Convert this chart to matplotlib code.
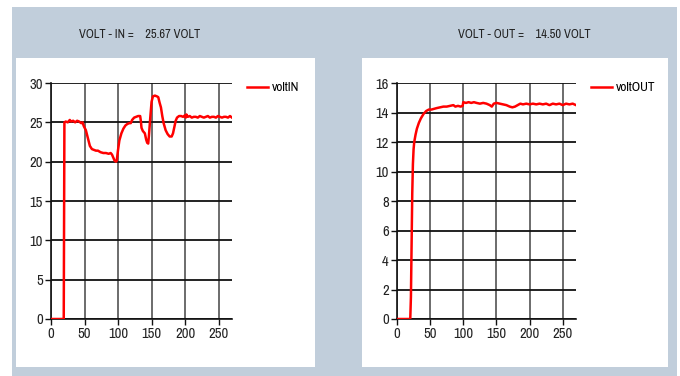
import matplotlib
matplotlib.use("Agg")
import matplotlib.pyplot as plt
from matplotlib.patches import Rectangle

plt.rcParams['font.family'] = ['Archivo Narrow', 'Liberation Sans', 'DejaVu Sans']

# ---------------- data ----------------
in_x = [0, 19, 20, 22, 25, 28, 30, 33, 36, 39, 42, 45, 47, 49, 52, 55, 58, 61, 64, 67, 70,
        74, 78, 82, 86, 89, 91, 93, 95, 97, 98, 100, 102, 105, 108, 111, 114, 117, 119, 121,
        124, 127, 130, 133, 134, 135, 137, 140, 142, 143.5, 145, 146, 148, 150, 152, 155, 158,
        160, 162, 164, 166, 168, 171, 174, 177, 180, 182, 184, 186, 188, 191, 194, 197, 200,
        201, 202, 204, 207, 210, 213, 216, 219, 222, 225, 228, 231, 234, 237, 240, 243, 246,
        249, 252, 255, 258, 261, 264, 267, 270]
in_y = [0, 0, 25.0, 25.1, 25.0, 25.3, 25.1, 25.2, 25.0, 25.2, 25.1, 24.9, 25.0, 24.5, 24.0,
        23.0, 22.0, 21.6, 21.5, 21.4, 21.4, 21.2, 21.1, 21.1, 21.0, 21.1, 20.9, 20.5, 20.1,
        20.0, 20.1, 21.5, 22.7, 23.6, 24.2, 24.6, 24.8, 24.9, 24.9, 25.3, 25.6, 25.7, 25.8,
        25.8, 25.2, 24.3, 23.9, 23.6, 22.8, 22.4, 22.3, 23.2, 25.5, 27.6, 28.3, 28.4, 28.3,
        28.2, 27.5, 26.9, 25.8, 24.9, 24.0, 23.5, 23.2, 23.2, 23.6, 24.4, 25.2, 25.6, 25.8,
        25.8, 25.7, 25.9, 25.6, 26.0, 25.7, 25.8, 25.6, 25.7, 25.7, 25.6, 25.8, 25.7, 25.6,
        25.7, 25.8, 25.6, 25.7, 25.7, 25.6, 25.8, 25.7, 25.6, 25.7, 25.7, 25.6, 25.8, 25.6]

out_x = [0, 20, 21, 22, 23, 24, 25, 26, 28, 30, 33, 36, 40, 44, 48, 52, 56, 60, 65, 70, 75,
         80, 85, 88, 92, 96, 99, 100, 104, 108, 112, 116, 120, 125, 130, 135, 140, 143, 146,
         150, 155, 160, 165, 170, 174, 178, 182, 186, 190, 195, 200, 205, 210, 215, 220, 225,
         230, 235, 240, 245, 250, 255, 260, 265, 270]
out_y = [0, 0, 1.5, 5.0, 8.5, 10.5, 11.5, 12.0, 12.5, 12.9, 13.3, 13.6, 13.9, 14.1, 14.2,
         14.2, 14.25, 14.3, 14.35, 14.4, 14.4, 14.45, 14.5, 14.4, 14.45, 14.4, 14.45, 14.7,
         14.65, 14.7, 14.65, 14.7, 14.65, 14.6, 14.65, 14.6, 14.5, 14.4, 14.6, 14.65, 14.6,
         14.55, 14.5, 14.4, 14.35, 14.4, 14.5, 14.6, 14.55, 14.6, 14.55, 14.6, 14.55, 14.6,
         14.55, 14.6, 14.5, 14.6, 14.55, 14.6, 14.5, 14.6, 14.55, 14.6, 14.5]

in_title = "VOLT - IN =    25.67 VOLT"
out_title = "VOLT - OUT =    14.50 VOLT"
x_ticks = [0, 50, 100, 150, 200, 250]
in_ticks = [0, 5, 10, 15, 20, 25, 30]
out_ticks = [0, 2, 4, 6, 8, 10, 12, 14, 16]

W, H = 680, 376
fig = plt.figure(figsize=(W / 100, H / 100), dpi=100)
fig.patch.set_facecolor('white')

def frect(x0, y0, x1, y1, color, z):
    fig.patches.append(Rectangle((x0 / W, 1 - y1 / H), (x1 - x0) / W, (y1 - y0) / H,
                                 transform=fig.transFigure, facecolor=color,
                                 edgecolor='none', zorder=z))

blue = '#c1cedb'
frect(12, 7, 677, 376, blue, -3)
frect(16, 58, 315, 367, 'white', -2)
frect(362, 58, 668, 367, 'white', -2)

def make_axes(px0, px1, py0, py1):
    return fig.add_axes([px0 / W, 1 - py1 / H, (px1 - px0) / W, (py1 - py0) / H])

def style(ax, yticks, xs, ys, label, leg_px):
    ax.set_facecolor('white')
    ax.plot(xs, ys, color='#ff0000', lw=1.8, label=label, zorder=3)
    ax.set_xlim(0, 270)
    ax.set_ylim(yticks[0], yticks[-1])
    ax.set_xticks(x_ticks)
    ax.set_yticks(yticks)
    ax.grid(axis='y', color='#111111', lw=1.3)
    ax.grid(axis='x', color='#444444', lw=1.1)
    for s in ['top', 'right']:
        ax.spines[s].set_visible(False)
    for s in ['left', 'bottom']:
        ax.spines[s].set_color('#111111')
        ax.spines[s].set_linewidth(1.2)
    ax.tick_params(axis='both', length=4, width=1.0, color='#111111',
                   labelsize=10.5, labelcolor='#222222', pad=2)
    ax.legend(loc='upper left', bbox_to_anchor=(leg_px[0] / W, 1 - leg_px[1] / H),
              bbox_transform=fig.transFigure, frameon=False, handlelength=1.6,
              handletextpad=0.3, borderaxespad=0, borderpad=0, fontsize=9.5)

ax1 = make_axes(51, 232, 83, 319)
style(ax1, in_ticks, in_x, in_y, 'voltIN', (247, 82))
ax2 = make_axes(397, 576, 83, 319)
style(ax2, out_ticks, out_x, out_y, 'voltOUT', (591, 82))

fig.text(140 / W, 1 - 34 / H, in_title, ha='center', va='center', fontsize=9, color='#222222')
fig.text(524 / W, 1 - 34 / H, out_title, ha='center', va='center', fontsize=9, color='#222222')

fig.savefig('out.png', dpi=100, facecolor='white')
